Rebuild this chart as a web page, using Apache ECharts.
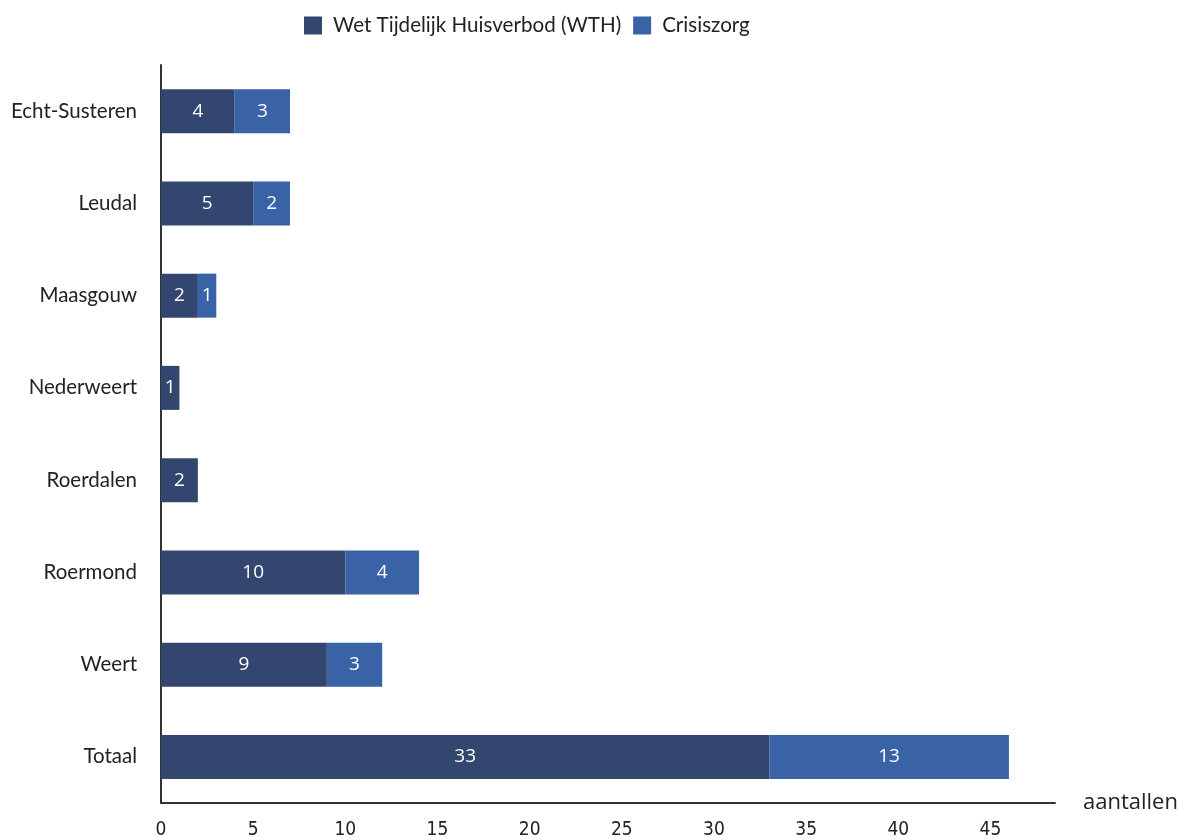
<!DOCTYPE html>
<html>
<head>
<meta charset="utf-8">
<script src="https://cdn.jsdelivr.net/npm/echarts@6/dist/echarts.min.js"></script>
<style>html,body{margin:0;padding:0;background:#fff}#c{width:1186px;height:840px}</style>
</head>
<body>
<div id="c"></div>
<script>
const categories = ['Echt-Susteren','Leudal','Maasgouw','Nederweert','Roerdalen','Roermond','Weert','Totaal'];
const wth = [4,5,2,1,2,10,9,33];
const crisis = [3,2,1,0,0,4,3,13];
const seriesNames = ['Wet Tijdelijk Huisverbod (WTH)','Crisiszorg'];

const chart = echarts.init(document.getElementById('c'));
const lbl = {show:true, position:'inside', color:'#fff', fontSize:19, fontFamily:'Open Sans',
  formatter: p => p.value ? p.value : ''};
chart.setOption({
  animation:false,
  legend:{top:10, left:299, itemWidth:18, itemHeight:18, itemGap:12,
    icon:'rect', textStyle:{fontFamily:'Lato', fontSize:20.6, color:'#222', padding:[0,0,0,6]}},
  grid:{left:161, right:131, top:65, bottom:36},
  xAxis:{type:'value', min:0, max:48.5, interval:5,
    name:'aantallen', nameLocation:'end', nameGap:28,
    nameTextStyle:{fontFamily:'Open Sans', fontSize:22, color:'#222', verticalAlign:'middle'},
    axisLine:{show:true, lineStyle:{color:'#333', width:2}},
    axisTick:{show:false}, splitLine:{show:false},
    axisLabel:{margin:18, fontSize:19, color:'#222', fontFamily:'DejaVu Sans Condensed',
      formatter: v => (v % 5 === 0 ? String(v) : '')}},
  yAxis:{type:'category', data:categories, inverse:true,
    axisLine:{show:true, lineStyle:{color:'#333', width:2}},
    axisTick:{show:false},
    axisLabel:{margin:24, fontSize:20.5, color:'#222', fontFamily:'Lato'}},
  series:[
    {name:seriesNames[0], type:'bar', stack:'a', data:wth, barWidth:44,
      itemStyle:{color:'#33466f'}, label:lbl},
    {name:seriesNames[1], type:'bar', stack:'a', data:crisis, barWidth:44,
      itemStyle:{color:'#3a62a6'}, label:lbl}
  ]
});
</script>
</body>
</html>
